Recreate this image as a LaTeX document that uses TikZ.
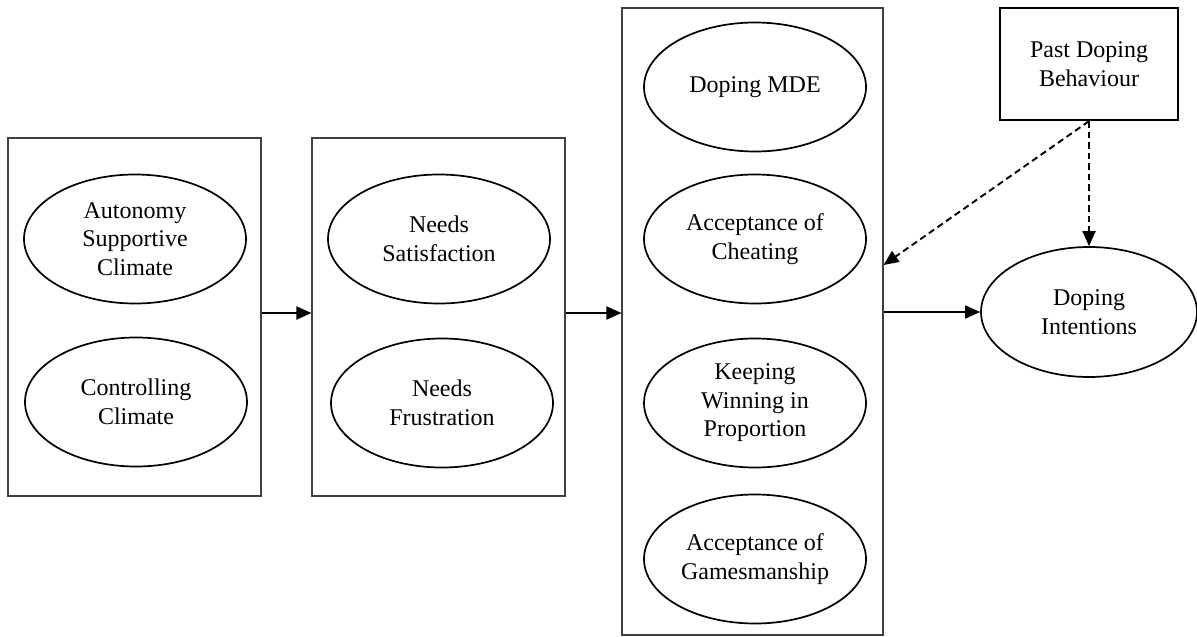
\documentclass[tikz,border=0pt]{standalone}
\usepackage{fontspec}
\setmainfont{Liberation Serif}
\usetikzlibrary{shapes.geometric,arrows.meta}
\begin{document}
\begin{tikzpicture}[x=1pt,y=-1pt,
  grp/.style={draw=black!75,line width=1.1pt,rectangle,inner sep=0pt},
  var/.style={draw,ellipse,line width=1.7pt,minimum width=222pt,minimum height=129pt,inner sep=0pt,align=center,
    font=\fontsize{24pt}{28.5pt}\selectfont},
  arr/.style={line width=1.9pt,-{Triangle[length=15pt,width=13pt]}},
  darr/.style={line width=1.9pt,dash pattern=on 6.5pt off 4pt,-{Triangle[length=15pt,width=13pt]}}]
\useasboundingbox (0,0) rectangle (1197,637);
% group boxes
\node[grp,minimum width=253pt,minimum height=358pt] (g1) at (134.5,317) {};
\node[grp,minimum width=253pt,minimum height=358pt] (g2) at (438.5,317) {};
\node[grp,minimum width=261pt,minimum height=627pt] (g3) at (752.5,321.5) {};
% variables
\node[var] (asc) at (135,239) {Autonomy\\Supportive\\Climate};
\node[var] (cc) at (136,402) {Controlling\\Climate};
\node[var] (ns) at (439,239) {Needs\\Satisfaction};
\node[var] (nf) at (442,403) {Needs\\Frustration};
\node[var] (mde) at (755,87) {Doping MDE};
\node[var] (ac) at (755,239) {Acceptance of\\Cheating};
\node[var] (kw) at (755,403) {Keeping\\Winning in\\Proportion};
\node[var] (ag) at (755,559) {Acceptance of\\Gamesmanship};
\node[var,minimum width=216pt,minimum height=130pt] (di) at (1089,312) {Doping\\Intentions};
\node[draw,line width=2.3pt,minimum width=178pt,minimum height=112pt,inner sep=0pt,align=center,
  font=\fontsize{24pt}{28.5pt}\selectfont] (pdb) at (1089,64) {Past Doping\\Behaviour};
% connector anchors
\coordinate (a1) at (g1.east |- 0,313);
\coordinate (b1) at (g2.west |- 0,313);
\coordinate (a2) at (g2.east |- 0,313);
\coordinate (b2) at (g3.west |- 0,313);
\coordinate (a3) at (g3.east |- 0,312);
\coordinate (b3) at (g3.east |- 0,265);
% connectors
\draw[arr] (a1) -- (b1);
\draw[arr] (a2) -- (b2);
\draw[arr] (a3) -- (di.west);
\draw[darr] (pdb.south) -- (b3);
\draw[darr] (pdb.south) -- (pdb.south |- di.north);
\end{tikzpicture}
\end{document}
